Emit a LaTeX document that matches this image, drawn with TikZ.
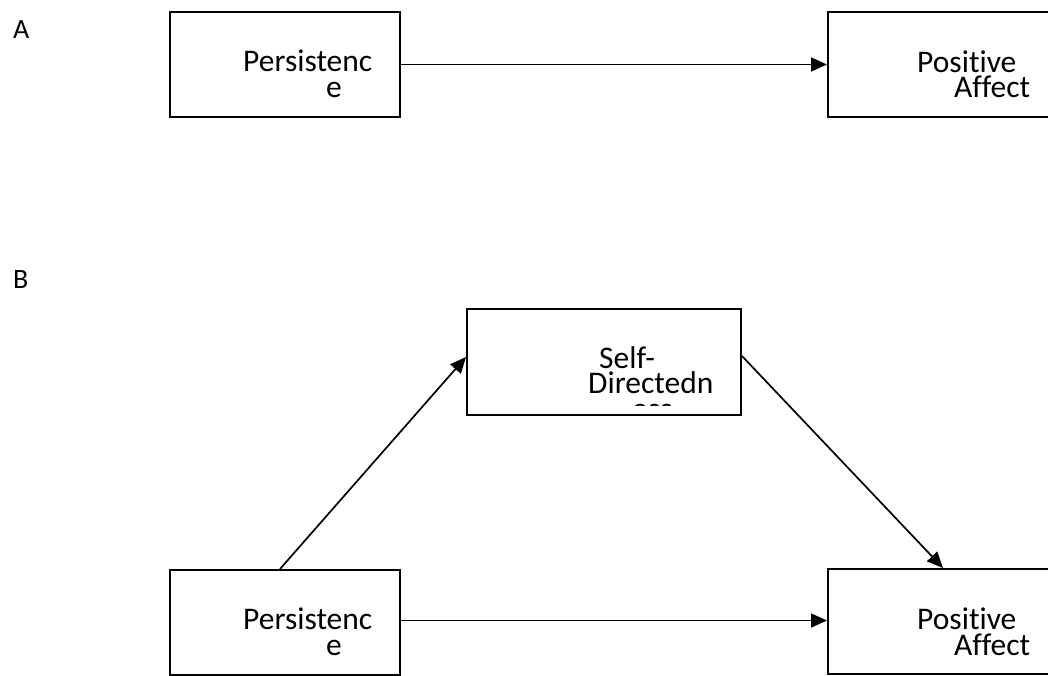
\documentclass[tikz,border=0pt]{standalone}
\usepackage{fontspec}
\setmainfont{Carlito}[Ligatures=NoCommon]
\usetikzlibrary{arrows.meta}
\begin{document}
\begin{tikzpicture}[x=1pt,y=-1pt,
  boxnode/.style={draw=black,line width=2pt,rectangle,inner sep=0pt,fill=white},
  lbl/.style={anchor=base west,inner sep=0pt,font=\fontsize{31.5}{31.5}\selectfont},
  panel/.style={anchor=base west,inner sep=0pt,font=\fontsize{28}{28}\selectfont},
  conn/.style={line width=1.7pt,-{Triangle[length=16pt,width=14pt]}}]
\useasboundingbox (0,0) rectangle (1048,675);
\clip (0,0) rectangle (1048,675);
% panel labels
\node[panel] (labA) at (13,38) {A};
\node[panel] (labB) at (13,288) {B};
% boxes panel A
\node[boxnode,minimum width=230pt,minimum height=105pt] (pA) at (285,64.5) {};
\node[boxnode,minimum width=230pt,minimum height=105pt] (aA) at (943,64.5) {};
% boxes panel B
\node[boxnode,minimum width=274pt,minimum height=106pt] (sB) at (604,362) {};
\node[boxnode,minimum width=230pt,minimum height=105pt] (pB) at (285,622.5) {};
\node[boxnode,minimum width=230pt,minimum height=105pt] (aB) at (943,621.5) {};
% texts panel A
\node[lbl] (tpA1) at (243,71) {Persistenc};
\node[lbl] (tpA2) at (326,97) {e};
\node[lbl] (taA1) at (917,72) {Positive};
\node[lbl] (taA2) at (954,97) {Affect};
% texts panel B
\node[lbl] (tpB1) at (243,629) {Persistenc};
\node[lbl] (tpB2) at (326,655) {e};
\node[lbl] (taB1) at (917,629) {Positive};
\node[lbl] (taB2) at (954,655) {Affect};
\node[lbl] (ts1) at (599,368) {Self-};
\node[lbl] (ts2) at (588,393) {Directedn};
\begin{scope}
\clip (580,400) rectangle (720,405);
\node[lbl] (ts3) at (632,419) {ess};
\end{scope}
% connectors
\draw[conn] (pA.east) -- (aA.west);
\draw[conn] (pB.east |- 0,620.5) -- (aB.west |- 0,620.5);
\draw[conn] ([xshift=-5pt]pB.north) -- ([yshift=5pt]sB.west);
\draw[conn] ([yshift=6pt]sB.east) -- (aB.north);
\end{tikzpicture}
\end{document}
